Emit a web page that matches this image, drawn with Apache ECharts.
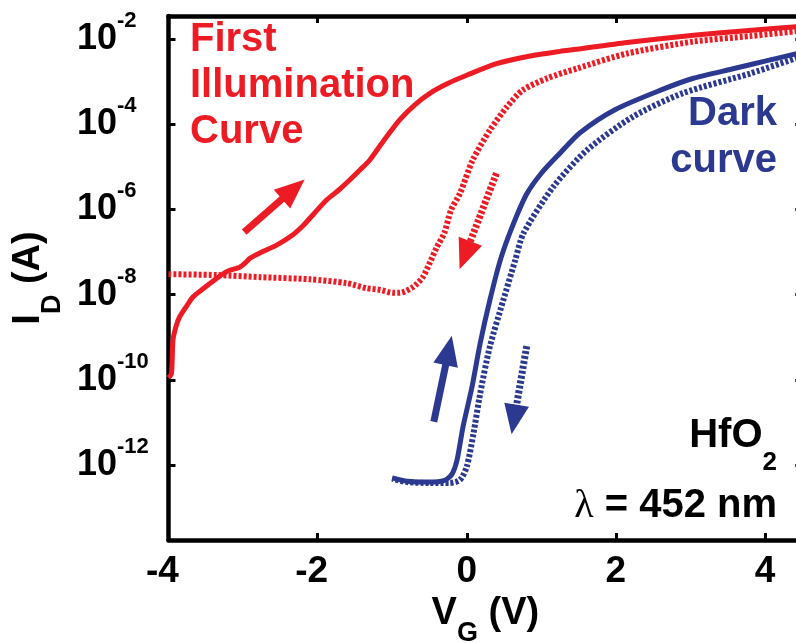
<!DOCTYPE html>
<html>
<head>
<meta charset="utf-8">
<script src="https://cdn.jsdelivr.net/npm/echarts@6/dist/echarts.min.js"></script>
<style>
  html, body { margin: 0; padding: 0; background: #fff; }
  #chart { width: 796px; height: 643px; }
</style>
</head>
<body>
<div id="chart"></div>
<script>
// Gate voltage (V) and drain current (A) for each sweep
const VG_ILLUM_FWD = [-4.00, -3.96, -3.94, -3.90, -3.85, -3.75, -3.67, -3.55, -3.44, -3.22, -3.04, -2.95, -2.91, -2.75, -2.55, -2.35, -2.19, -2.05, -1.88, -1.72, -1.57, -1.43, -1.30, -1.12, -0.90, -0.70, -0.49, -0.25, 0.00, 0.40, 0.85, 1.25, 1.47, 2.15, 3.04, 3.70, 4.50];
const ID_ILLUM_FWD = [1.12e-10, 1.41e-10, 8.51e-10, 1.78e-9, 3.02e-9, 5.62e-9, 8.91e-9, 1.32e-8, 1.86e-8, 3.47e-8, 4.47e-8, 6.03e-8, 7.08e-8, 1.00e-7, 1.45e-7, 2.40e-7, 4.27e-7, 7.94e-7, 1.66e-6, 2.82e-6, 4.90e-6, 8.51e-6, 1.45e-5, 3.98e-5, 1.26e-4, 2.82e-4, 5.37e-4, 9.12e-4, 1.41e-3, 2.63e-3, 3.98e-3, 5.13e-3, 5.75e-3, 8.32e-3, 1.23e-2, 1.55e-2, 2.00e-2];

const VG_ILLUM_REV = [4.50, 3.80, 3.04, 2.15, 1.48, 1.08, 0.75, 0.54, 0.31, 0.08, -0.09, -0.21, -0.30, -0.40, -0.49, -0.59, -0.72, -0.90, -0.99, -1.16, -1.34, -1.61, -2.10, -2.77, -3.35, -4.00];
const ID_ILLUM_REV = [1.58e-2, 1.17e-2, 8.71e-3, 4.57e-3, 2.04e-3, 1.20e-3, 6.31e-4, 2.57e-4, 7.24e-5, 1.45e-5, 2.40e-6, 9.77e-7, 2.82e-7, 1.32e-7, 5.89e-8, 2.57e-8, 1.51e-8, 1.10e-8, 1.10e-8, 1.29e-8, 1.41e-8, 1.86e-8, 2.29e-8, 2.57e-8, 2.88e-8, 3.02e-8];

const VG_DARK_FWD = [-1.00, -0.80, -0.50, -0.30, -0.20, -0.13, -0.05, 0.07, 0.18, 0.31, 0.45, 0.60, 0.80, 1.00, 1.25, 1.52, 2.00, 2.60, 3.04, 3.57, 4.00, 4.50];
const ID_DARK_FWD = [5.01e-13, 4.17e-13, 3.98e-13, 4.37e-13, 6.03e-13, 1.32e-12, 7.94e-12, 6.76e-11, 7.24e-10, 7.41e-9, 6.46e-8, 3.55e-7, 2.24e-6, 7.08e-6, 2.09e-5, 6.31e-5, 2.24e-4, 6.31e-4, 1.20e-3, 2.00e-3, 3.02e-3, 4.90e-3];

const VG_DARK_REV = [4.50, 3.80, 2.90, 2.23, 1.61, 1.16, 0.76, 0.65, 0.49, 0.31, 0.18, 0.09, 0.00, -0.09, -0.23, -0.50, -0.80, -1.00];
const ID_DARK_REV = [3.98e-3, 1.55e-3, 5.37e-4, 1.51e-4, 2.45e-5, 3.39e-6, 2.75e-7, 6.46e-8, 7.41e-9, 6.03e-10, 4.79e-11, 5.50e-12, 9.12e-13, 4.47e-13, 3.80e-13, 3.80e-13, 3.98e-13, 4.79e-13];

// Sweep-direction arrows: [tail, head] in (V, A)
const ARROW_ILLUM_FWD = [[-2.985, 2.95e-7], [-2.326, 2.98e-6]];
const ARROW_ILLUM_REV = [[0.398, 7.03e-6], [-0.024, 8.41e-8]];
const ARROW_DARK_FWD = [[-0.442, 1.04e-11], [-0.242, 4.9e-10]];
const ARROW_DARK_REV = [[0.804, 6.2e-10], [0.635, 1.17e-11]];

// Axis ranges
const VG_RANGE = [-4, 4.5];
const ID_RANGE = [1.74e-14, 3.47e-2];

const RED = '#ed1c24';
const BLUE = '#2b3990';
const FONT = '"Liberation Sans", Arial, Helvetica, sans-serif';
const DASH = [3, 2];

const pairs = (xs, ys) => xs.map((x, i) => [x, ys[i]]);

function arrow(pts, color, dashed) {
  return {
    silent: true,
    symbol: ['none', 'triangle'],
    symbolSize: [25, 30],
    label: { show: false },
    lineStyle: { color: color, width: 7, type: dashed ? DASH : 'solid', opacity: 1 },
    emphasis: { disabled: true },
    data: [[{ coord: pts[0] }, { coord: pts[1] }]]
  };
}

function curve(name, xs, ys, color, dashed, arrowPts) {
  return {
    name: name,
    type: 'line',
    data: pairs(xs, ys),
    showSymbol: false,
    smooth: 0.25,
    lineStyle: { color: color, width: dashed ? 6 : 5, type: dashed ? DASH : 'solid' },
    itemStyle: { color: color },
    markLine: arrow(arrowPts, color, dashed),
    animation: false
  };
}

const axisLineStyle = { onZero: false, lineStyle: { color: '#000', width: 4.5 } };
const tickStyle = { inside: true, length: 7, lineStyle: { color: '#000', width: 3 } };

const chart = echarts.init(document.getElementById('chart'), null, { renderer: 'canvas' });

chart.setOption({
  animation: false,
  backgroundColor: '#fff',
  grid: { left: 168.5, top: 16, right: -6.3, bottom: 103, containLabel: false, outerBoundsMode: 'none' },
  xAxis: [{
    type: 'value',
    position: 'bottom',
    min: VG_RANGE[0],
    max: VG_RANGE[1],
    interval: 2,
    axisLine: axisLineStyle,
    axisTick: tickStyle,
    splitLine: { show: false },
    axisLabel: {
      margin: 13,
      showMaxLabel: false,
      formatter: v => (v < 0 ? '{t|' + v + '}{p| }' : '{t|' + v + '}'),
      rich: {
        t: { fontSize: 37, fontWeight: 'bold', fontFamily: FONT, color: '#000' },
        p: { width: 12, fontSize: 37 }
      }
    },
    name: '{m|V}{s|G}{m| (V)}',
    nameLocation: 'middle',
    nameGap: 35,
    nameTextStyle: {
      rich: {
        m: { fontSize: 38, fontWeight: 'bold', fontFamily: FONT, color: '#000', lineHeight: 66 },
        s: { fontSize: 27, fontWeight: 'bold', fontFamily: FONT, color: '#000', lineHeight: 27, verticalAlign: 'bottom' }
      }
    }
  }, {
    type: 'value',
    position: 'top',
    min: VG_RANGE[0],
    max: VG_RANGE[1],
    interval: 2,
    axisLine: axisLineStyle,
    axisTick: tickStyle,
    axisLabel: { show: false },
    splitLine: { show: false }
  }],
  yAxis: [{
    type: 'log',
    logBase: 100,
    position: 'left',
    min: ID_RANGE[0],
    max: ID_RANGE[1],
    axisLine: axisLineStyle,
    axisTick: tickStyle,
    minorTick: { show: false },
    splitLine: { show: false },
    axisLabel: {
      align: 'left',
      margin: 91.5,
      showMinLabel: false,
      showMaxLabel: false,
      formatter: v => '{b|10}{e|' + Math.round(Math.log10(v)) + '}',
      rich: {
        b: { fontSize: 36, fontWeight: 'bold', fontFamily: FONT, color: '#000', lineHeight: 58 },
        e: { fontSize: 22, fontWeight: 'bold', fontFamily: FONT, color: '#000', lineHeight: 22, verticalAlign: 'top' }
      }
    },
    name: '{m|I}{s|D}{m| (A)}',
    nameLocation: 'middle',
    nameRotate: 90,
    nameGap: 102,
    nameTextStyle: {
      rich: {
        m: { fontSize: 38, fontWeight: 'bold', fontFamily: FONT, color: '#000', lineHeight: 75 },
        s: { fontSize: 27, fontWeight: 'bold', fontFamily: FONT, color: '#000', lineHeight: 27, verticalAlign: 'bottom' }
      }
    }
  }, {
    type: 'log',
    logBase: 100,
    position: 'right',
    min: ID_RANGE[0],
    max: ID_RANGE[1],
    axisLine: axisLineStyle,
    axisTick: tickStyle,
    axisLabel: { show: false },
    splitLine: { show: false }
  }],
  series: [
    curve('Illumination reverse', VG_ILLUM_REV, ID_ILLUM_REV, RED, true, ARROW_ILLUM_REV),
    curve('Illumination forward', VG_ILLUM_FWD, ID_ILLUM_FWD, RED, false, ARROW_ILLUM_FWD),
    curve('Dark reverse', VG_DARK_REV, ID_DARK_REV, BLUE, true, ARROW_DARK_REV),
    curve('Dark forward', VG_DARK_FWD, ID_DARK_FWD, BLUE, false, ARROW_DARK_FWD)
  ],
  graphic: { elements: [
    {
      type: 'text', x: 190, y: 16.5, silent: true,
      style: { text: 'First\nIllumination\nCurve', fill: RED, fontSize: 40, fontWeight: 'bold', fontFamily: FONT, lineHeight: 46, align: 'left', verticalAlign: 'top' }
    },
    {
      type: 'text', x: 777, y: 90.5, silent: true,
      style: { text: 'Dark\ncurve', fill: BLUE, fontSize: 40, fontWeight: 'bold', fontFamily: FONT, lineHeight: 47, align: 'right', verticalAlign: 'top' }
    },
    {
      type: 'text', x: 777, y: 436, silent: true,
      style: {
        text: '{m|HfO}{s|2}', align: 'right', verticalAlign: 'middle',
        rich: {
          m: { fontSize: 40, fontWeight: 'bold', fontFamily: FONT, fill: '#000', lineHeight: 79 },
          s: { fontSize: 26, fontWeight: 'bold', fontFamily: FONT, fill: '#000', lineHeight: 26, verticalAlign: 'bottom' }
        }
      }
    },
    {
      type: 'text', x: 777, y: 506, silent: true,
      style: {
        text: '{l|λ}{m| = 452 nm}', align: 'right', verticalAlign: 'middle',
        rich: {
          l: { fontSize: 40, fontFamily: '"Liberation Serif", "DejaVu Serif", serif', fill: '#000' },
          m: { fontSize: 40, fontWeight: 'bold', fontFamily: FONT, fill: '#000' }
        }
      }
    }
  ] }
});
</script>
</body>
</html>
